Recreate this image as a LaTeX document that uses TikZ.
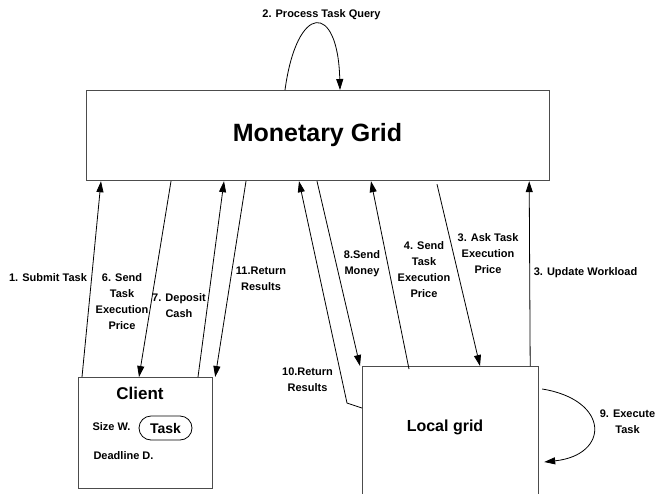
\documentclass[tikz,border=0pt]{standalone}
\usepackage{fontspec}
\setmainfont{Liberation Sans}
\usetikzlibrary{arrows.meta,calc}
\begin{document}
\begin{tikzpicture}[x=1pt,y=-1pt,
  box/.style={draw=black!70,line width=1.2pt,inner sep=0pt,anchor=north west},
  arr/.style={draw=black,line width=0.8pt,-{Triangle[length=11pt,width=7pt]}},
  lbl/.style={font=\bfseries\fontsize{11}{16}\selectfont,align=center,inner sep=0pt}]
\clip (0,0) rectangle (656,493);
\fill[white] (0,0) rectangle (656,493);
% boxes
\node[box,minimum width=463pt,minimum height=90pt] (mg) at (86,90) {};
\node[font=\bfseries\fontsize{25}{28}\selectfont,inner sep=0pt] (mgt) at (317.5,135) {Monetary Grid};
\node[box,minimum width=134pt,minimum height=111pt] (cl) at (78,377) {};
\node[box,minimum width=176pt,minimum height=150pt] (lg) at (362,366) {};
\node[font=\bfseries\fontsize{17}{20}\selectfont,inner sep=0pt] (clt) at (140,393) {Client};
\node[lbl] (size) at (111.5,427) {Size W.};
\node[draw=black,line width=0.8pt,rounded corners=12pt,minimum width=53pt,minimum height=24pt,inner sep=0pt,font=\bfseries\fontsize{14}{16}\selectfont] (task) at (165.5,428) {Task};
\node[lbl] (dead) at (123.5,456) {Deadline D.};
\node[font=\bfseries\fontsize{16}{19}\selectfont,inner sep=0pt] (lgt) at (445,427) {Local grid};
% connectors
\draw[arr] ([xshift=4pt]cl.north west) -- ([xshift=15pt]mg.south west);
\draw[arr] ([xshift=85pt]mg.south west) -- ([xshift=61pt]cl.north west);
\draw[arr] ([xshift=120pt]cl.north west) -- ([xshift=138pt]mg.south west);
\draw[arr] ([xshift=160pt]mg.south west) -- ([xshift=2pt]cl.north east);
\draw[arr] ([yshift=-42pt]lg.north west) -- ++(-15,-5) -- ([xshift=213pt]mg.south west);
\draw[arr] ([xshift=231pt]mg.south west) -- ([xshift=-2pt]lg.north west);
\draw[arr] ([xshift=47pt,yshift=-3pt]lg.north west) -- ([xshift=285pt]mg.south west);
\draw[arr] ([xshift=351pt,yshift=-3pt]mg.south west) -- ([xshift=118pt]lg.north west);
\draw[arr] ([xshift=-9pt]lg.north east) -- ([xshift=-21pt]mg.south east);
\draw[arr] ([xshift=3pt,yshift=-23pt]lg.north east) .. controls (610,400) and (610,455) .. ([xshift=5pt,yshift=-96pt]lg.north east);
\draw[arr] ([xshift=199pt]mg.north west) .. controls (297,2) and (338,2) .. ([xshift=254pt]mg.north west);
% labels
\node[lbl] (l2) at (321.5,15) {2. Process Task Query};
\node[lbl] (l1) at (48,278) {1. Submit Task};
\node[lbl] (l6) at (122,302) {6. Send\\Task\\Execution\\Price};
\node[lbl] (l7) at (179,306) {7. Deposit\\Cash};
\node[lbl] (l11) at (261,279) {11.Return\\Results};
\node[lbl] (l8) at (362,264) {8.Send\\Money};
\node[lbl] (l4) at (424,270) {4. Send\\Task\\Execution\\Price};
\node[lbl] (l3a) at (488,254) {3. Ask Task\\Execution\\Price};
\node[lbl] (l3u) at (585.5,273) {3. Update Workload};
\node[lbl] (l10) at (307.5,380) {10.Return\\Results};
\node[lbl] (l9) at (627.5,422) {9. Execute\\Task};
\end{tikzpicture}
\end{document}
